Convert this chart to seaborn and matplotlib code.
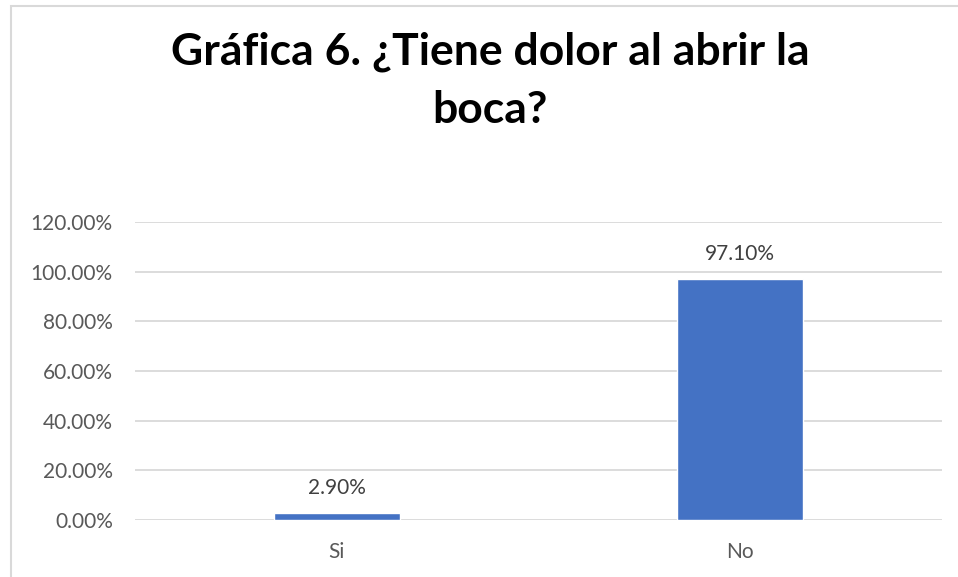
import matplotlib
matplotlib.use("Agg")
import matplotlib.pyplot as plt
from matplotlib.patches import Rectangle
import seaborn as sns
import pandas as pd

categories = ["Si", "No"]
values = [2.90, 97.10]
y_ticks = [0, 20, 40, 60, 80, 100, 120]
title_lines = ["Gráfica 6. ¿Tiene dolor al abrir la", "boca?"]

sns.set_theme(style="white")
plt.rcParams["font.family"] = ["Lato", "DejaVu Sans"]

W, H = 958, 577
fig = plt.figure(figsize=(W / 100, H / 100), dpi=100)

# chart frame
fig.patches.append(Rectangle((10.5 / W, -0.1), 1.2, 1 - 6 / H + 0.1,
                             transform=fig.transFigure, fill=False,
                             edgecolor="#d9d9d9", linewidth=1.5))

ax = fig.add_axes([135 / W, (H - 520) / H, (942 - 135) / W, (520 - 222) / H])
df = pd.DataFrame({"cat": categories, "val": values})
sns.barplot(data=df, x="cat", y="val", color="#4472C4", width=0.312,
            saturation=1, ax=ax)

ax.set_ylim(0, 120)
ax.set_xlim(-0.5, 1.5)
ax.set_yticks(y_ticks)
ax.set_yticklabels([f"{t:.2f}%" for t in y_ticks])
ax.yaxis.grid(True, color="#d9d9d9", linewidth=1.3)
ax.set_axisbelow(True)
for s in ax.spines.values():
    s.set_visible(False)
ax.tick_params(axis="both", length=0, labelsize=15, colors="#595959")
ax.tick_params(axis="y", pad=16)
ax.tick_params(axis="x", pad=16)
ax.set_xlabel("")
ax.set_ylabel("")

for c in ax.containers:
    ax.bar_label(c, labels=[f"{v:.2f}%" for v in values], padding=11,
                 fontsize=15, color="#404040")

fig.text(490 / W, (H - 65) / H, title_lines[0], ha="center", va="baseline",
         fontsize=32, fontweight="bold", color="black")
fig.text(490 / W, (H - 123) / H, title_lines[1], ha="center", va="baseline",
         fontsize=32, fontweight="bold", color="black")

fig.savefig("out.png", dpi=100)
